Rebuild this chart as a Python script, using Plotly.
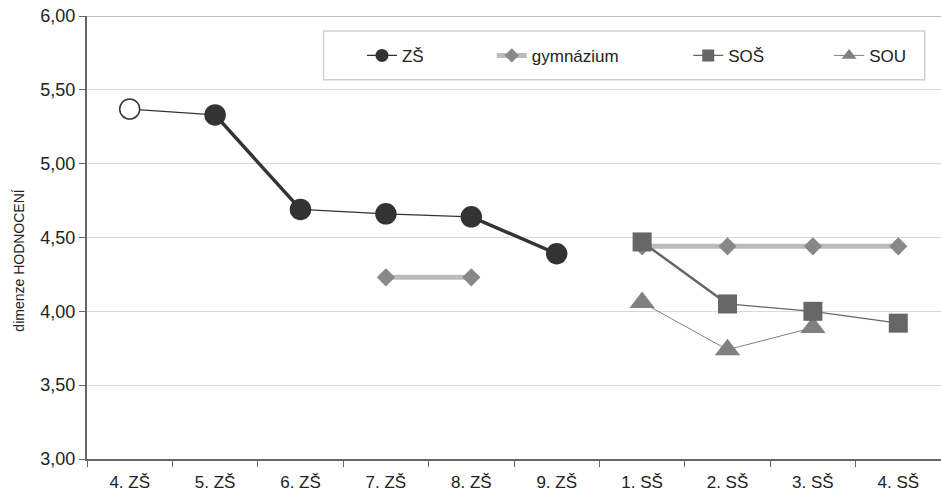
import plotly.graph_objects as go

categories = ["4. ZŠ", "5. ZŠ", "6. ZŠ", "7. ZŠ", "8. ZŠ", "9. ZŠ", "1. SŠ", "2. SŠ", "3. SŠ", "4. SŠ"]

zs_values = [5.37, 5.33, 4.69, 4.66, 4.64, 4.39, None, None, None, None]
gym_values = [None, None, None, 4.23, 4.23, None, 4.44, 4.44, 4.44, 4.44]
sos_values = [None, None, None, None, None, None, 4.47, 4.05, 4.00, 3.92]
sou_values = [None, None, None, None, None, None, 4.06, 3.74, 3.89, None]

y_ticks = [3.0, 3.5, 4.0, 4.5, 5.0, 5.5, 6.0]
y_title = "dimenze HODNOCENÍ"

# segment line widths (style)
zs_seg_widths = [1.2, 3.5, 1.2, 1.2, 3.5]
sos_seg_widths = [2.5, 1.2, 1.2]
sou_seg_widths = [1.0, 1.0]

ZS_COL = "#333333"
GYM_LINE = "#bbbbbb"
GYM_MARK = "#888888"
SOS_COL = "#666666"
SOU_COL = "#808080"
FONT = "Liberation Sans, Arial"

fig = go.Figure()


def add_segments(values, widths, color):
    idx = [i for i, v in enumerate(values) if v is not None]
    k = 0
    for a, b in zip(idx[:-1], idx[1:]):
        if b == a + 1:
            fig.add_trace(go.Scatter(
                x=[categories[a], categories[b]], y=[values[a], values[b]],
                mode="lines", line=dict(color=color, width=widths[k]),
                showlegend=False, hoverinfo="skip"))
            k += 1


# top border line at the max of the axis
fig.add_hline(y=y_ticks[-1], line=dict(color="#aaaaaa", width=1.5), layer="below")

# gymnázium line (thick light gray)
fig.add_trace(go.Scatter(
    x=categories, y=gym_values, mode="lines",
    line=dict(color=GYM_LINE, width=5), connectgaps=False,
    showlegend=False, hoverinfo="skip"))

add_segments(zs_values, zs_seg_widths, ZS_COL)
add_segments(sos_values, sos_seg_widths, SOS_COL)
add_segments(sou_values, sou_seg_widths, SOU_COL)

# markers
fig.add_trace(go.Scatter(
    x=categories, y=gym_values, mode="markers", name="gymnázium",
    marker=dict(symbol="diamond", size=14, color=GYM_MARK),
    showlegend=False))
fig.add_trace(go.Scatter(
    x=categories, y=sou_values, mode="markers", name="SOU",
    marker=dict(symbol="triangle-up", size=22, color=SOU_COL),
    showlegend=False))
fig.add_trace(go.Scatter(
    x=categories, y=sos_values, mode="markers", name="SOŠ",
    marker=dict(symbol="square", size=19, color=SOS_COL),
    showlegend=False))
zs_fill = ["white"] + [ZS_COL] * (len(categories) - 1)
fig.add_trace(go.Scatter(
    x=categories, y=zs_values, mode="markers", name="ZŠ",
    marker=dict(symbol="circle", size=20, color=zs_fill,
                line=dict(color=ZS_COL, width=1.5)),
    showlegend=False))

# legend entries (separate legends to place them as in the reference)
legend_specs = [
    ("ZŠ", dict(color=ZS_COL, width=1.2), dict(symbol="circle", size=13, color=ZS_COL), "legend", 0.322),
    ("gymnázium", dict(color=GYM_LINE, width=5), dict(symbol="diamond", size=11, color=GYM_MARK), "legend2", 0.474),
    ("SOŠ", dict(color=SOS_COL, width=1.2), dict(symbol="square", size=12, color=SOS_COL), "legend3", 0.704),
    ("SOU", dict(color=SOU_COL, width=1.0), dict(symbol="triangle-up", size=13, color=SOU_COL), "legend4", 0.869),
]
layout_legends = {}
for name, ln, mk, lg, xpos in legend_specs:
    fig.add_trace(go.Scatter(
        x=[None], y=[None], mode="lines+markers", name=name,
        line=ln, marker=mk, legend=lg, showlegend=True))
    layout_legends[lg] = dict(
        x=xpos, y=0.91, xanchor="left", yanchor="middle",
        bgcolor="rgba(0,0,0,0)", borderwidth=0,
        font=dict(family=FONT, size=17, color="#222222"),
        itemwidth=30, tracegroupgap=0)

fig.update_layout(**layout_legends)

fig.add_shape(type="rect", xref="paper", yref="paper",
              x0=0.277, x1=0.981, y0=0.856, y1=0.966,
              line=dict(color="#d0d0d0", width=1.5), fillcolor="rgba(0,0,0,0)", layer="below")

# y-axis title as annotation (positioned like the reference)
fig.add_annotation(text=y_title, xref="paper", yref="paper",
                   x=-0.08, y=0.447, xanchor="center", yanchor="middle",
                   textangle=-90, showarrow=False,
                   font=dict(family=FONT, size=14, color="#222222"))

fig.update_layout(
    width=941, height=497,
    margin=dict(l=87, r=0, t=16, b=38),
    paper_bgcolor="white", plot_bgcolor="white",
    separators=",.",
    font=dict(family=FONT, size=16, color="#222222"),
    xaxis=dict(
        type="category", categoryorder="array", categoryarray=categories,
        range=[-0.5, len(categories) - 0.5],
        showline=True, linecolor="#666666", linewidth=1.5,
        ticks="outside", tickson="boundaries", ticklen=6, tickcolor="#666666",
        ticklabelstandoff=7,
        showgrid=False, tickfont=dict(family=FONT, size=17, color="#222222"),
    ),
    yaxis=dict(
        range=[3, 6], tickvals=y_ticks, tickformat=".2f",
        showline=True, linecolor="#666666", linewidth=2,
        ticks="outside", ticklen=6, tickcolor="#666666",
        showgrid=True, gridcolor="#d9d9d9", gridwidth=1,
        zeroline=False,
        tickfont=dict(family=FONT, size=18, color="#222222"),
    ),
)

fig.write_html("out.html")
